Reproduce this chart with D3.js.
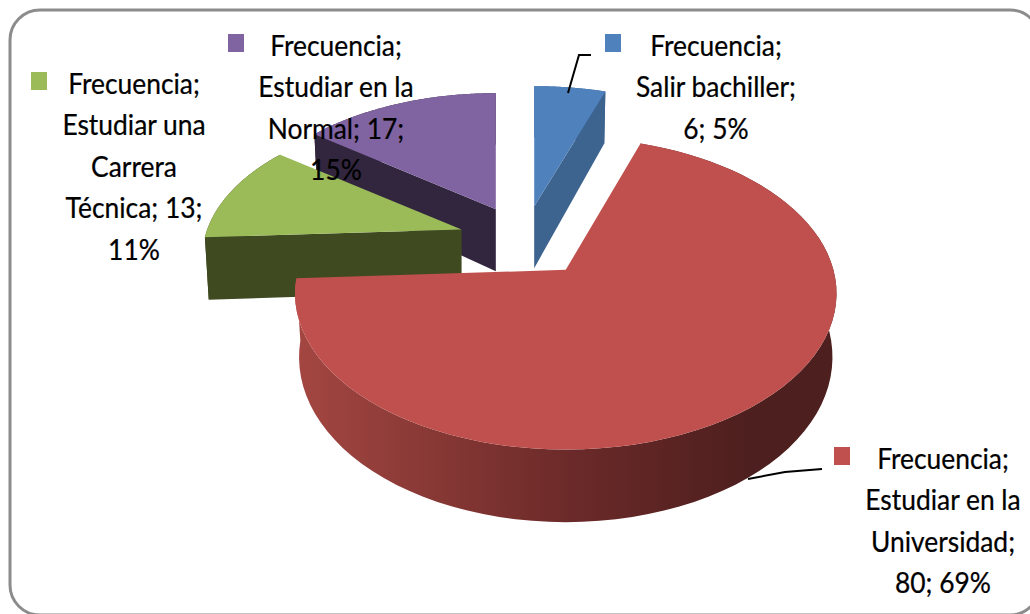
<!DOCTYPE html>
<html lang="es">
<head>
    <meta charset="UTF-8" />
    <title>Frecuencia</title>
    <script src="https://d3js.org/d3.v7.min.js"></script>
    <style>
        html, body { margin: 0; padding: 0; background: #fff; overflow: hidden; }
        text { font-family: Lato, "Open Sans", sans-serif; fill: #000; stroke: #000; stroke-width: 0.25; }
    </style>
</head>
<body>
    <script>
        // chart values
        const categories = ['Salir bachiller', 'Estudiar en la Universidad', 'Estudiar una Carrera Técnica', 'Estudiar en la Normal'];
        const values = [6, 80, 13, 17];
        const percents = ['5%', '69%', '11%', '15%'];
        const seriesName = 'Frecuencia';

        const topColors = ['#4f81bd', '#c0504d', '#9bbb59', '#8064a2'];
        const wallColors = ['#3d648f', '#4d1f1e', '#3f4a21', '#32263f'];

        const width = 1030;
        const height = 614;
        const centerX = 524, centerY = 240;
        const radiusX = 265, radiusY = 144;
        const perspective = 0.2;
        const explode = 0.25;
        const depth = 62;
        // the back slices come out a little smaller in the original
        const sliceScale = [1, 1.01, 0.96, 0.96];
        // the big slice is rounder at the back than the perspective gives
        const slicePerspective = [0.2, 0.15, 0.2, 0.2];
        const sliceRadiusY = [144, 151, 144, 144];
        // which flat cut of each slice faces the viewer
        const visibleFace = ['endFace', null, 'startFace', 'startFace'];

        const svg = d3.select('body').append('svg').attr('width', width).attr('height', height);

        // frame, runs off the right and bottom of the picture
        svg.append('rect')
            .attr('x', 10).attr('y', 10)
            .attr('width', 1030).attr('height', 605)
            .attr('rx', 30).attr('ry', 30)
            .attr('fill', '#fff')
            .attr('stroke', '#8c8c8c')
            .attr('stroke-width', 3);

        // red wall shading
        const grad = svg.append('defs').append('linearGradient')
            .attr('id', 'redWall')
            .attr('gradientUnits', 'userSpaceOnUse')
            .attr('x1', 300).attr('x2', 750).attr('y1', 0).attr('y2', 0);
        grad.append('stop').attr('offset', 0).attr('stop-color', '#a34641');
        grad.append('stop').attr('offset', 0.6).attr('stop-color', '#6b2a29');
        grad.append('stop').attr('offset', 1).attr('stop-color', '#4d1f1e');

        const pie = d3.pie().sort(null).value((d) => d);
        const arcs = pie(values);

        const sx = d3.scaleLinear().domain([-1, 1]).range([-radiusX, radiusX]);
        const line = d3.line().x((d) => d[0]).y((d) => d[1]);

        // plan coordinates (u right, v back) to screen offset
        function project(u, v, k, ry) {
            const s = 1 / (1 + k * v);
            return [sx(u) * s, -v * ry * s];
        }

        function drop(point, apex, v) {
            const d = depth * (1 - 0.17 * v);
            return [apex[0] + (point[0] - apex[0]) * 0.985, point[1] + d];
        }

        function sliceShapes(a, i) {
            const r = sliceScale[i];
            const mid = (a.startAngle + a.endAngle) / 2;
            const off = project(Math.sin(mid) * explode, Math.cos(mid) * explode, perspective, radiusY);
            const apex = [centerX + off[0], centerY + off[1]];
            const angles = d3.range(0, 81).map((n) => a.startAngle + (a.endAngle - a.startAngle) * n / 80);
            const rim = angles.map((t) => {
                const p = project(Math.sin(t) * r, Math.cos(t) * r, slicePerspective[i], sliceRadiusY[i]);
                return [apex[0] + p[0], apex[1] + p[1]];
            });
            const rimLow = angles.map((t, n) => drop(rim[n], apex, Math.cos(t)));
            const apexLow = drop(apex, apex, 0);
            return {
                top: [apex, ...rim],
                wall: [...rim, ...rimLow.slice().reverse()],
                startFace: [apex, rim[0], rimLow[0], apexLow],
                endFace: [apex, rim[80], rimLow[80], apexLow],
            };
        }

        // back slices first, the big one last
        const drawOrder = [3, 2, 0, 1];
        drawOrder.forEach((i) => {
            const shapes = sliceShapes(arcs[i], i);
            const g = svg.append('g');
            const wallFill = i === 1 ? 'url(#redWall)' : wallColors[i];
            g.append('path').attr('d', line(shapes.wall) + 'Z').attr('fill', wallFill);
            if (visibleFace[i]) {
                g.append('path').attr('d', line(shapes[visibleFace[i]]) + 'Z').attr('fill', wallColors[i]);
            }
            g.append('path').attr('d', line(shapes.top) + 'Z').attr('fill', topColors[i]);
        });

        // leader lines
        const leaders = [
            [[568, 93], [579, 55], [591, 55]],
            [[748, 479], [785, 472], [822, 469]],
        ];
        leaders.forEach((pts) => {
            svg.append('path').attr('d', line(pts)).attr('fill', 'none').attr('stroke', '#000').attr('stroke-width', 2);
        });

        // data labels, wrapped the way the original wraps them
        const labelLines = [
            [seriesName + ';', 'Salir bachiller;', values[0] + '; ' + percents[0]],
            [seriesName + ';', 'Estudiar en la', 'Universidad;', values[1] + '; ' + percents[1]],
            [seriesName + ';', 'Estudiar una', 'Carrera', 'Técnica; ' + values[2] + ';', percents[2]],
            [seriesName + ';', 'Estudiar en la', 'Normal; ' + values[3] + ';', percents[3]],
        ];
        const labelPos = [
            { x: 716, y: 45, keyX: 605, keyY: 34 },
            { x: 943, y: 458, keyX: 834, keyY: 447 },
            { x: 134, y: 83, keyX: 31, keyY: 72 },
            { x: 336, y: 45, keyX: 228, keyY: 34 },
        ];
        const lineGap = 41.5;
        const fontSize = 29;
        const squeeze = 0.91;

        labelLines.forEach((lines, i) => {
            const pos = labelPos[i];
            svg.append('rect')
                .attr('x', pos.keyX).attr('y', pos.keyY)
                .attr('width', 16).attr('height', 18)
                .attr('fill', topColors[i]);
            lines.forEach((txt, j) => {
                svg.append('text')
                    .attr('transform', `translate(${pos.x},${pos.y + j * lineGap}) scale(${squeeze},1)`)
                    .attr('text-anchor', 'middle')
                    .attr('dominant-baseline', 'central')
                    .attr('font-size', fontSize)
                    .text(txt);
            });
        });
    </script>
</body>
</html>
